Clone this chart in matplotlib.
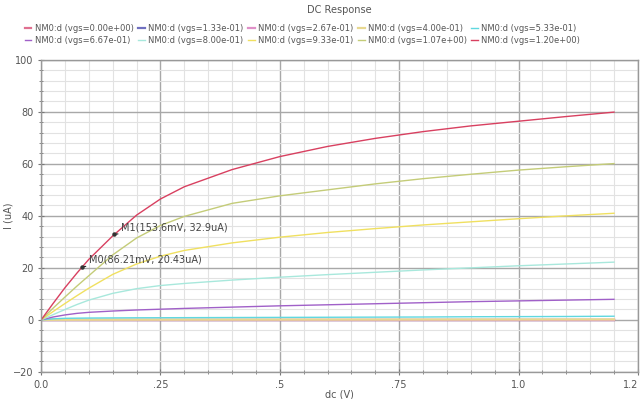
import numpy as np
import matplotlib
matplotlib.use("Agg")
import matplotlib.pyplot as plt
from matplotlib.ticker import MultipleLocator, FixedLocator, FixedFormatter

# drain voltage sweep (V)
vds = [0.0, 0.025, 0.05, 0.075, 0.1, 0.15, 0.2, 0.25, 0.3, 0.4,
       0.5, 0.6, 0.7, 0.8, 0.9, 1.0, 1.1, 1.2]

vgs_labels = ["0.00e+00", "1.33e-01", "2.67e-01", "4.00e-01", "5.33e-01",
              "6.67e-01", "8.00e-01", "9.33e-01", "1.07e+00", "1.20e+00"]

# drain current I (uA), one list per vgs step
id_vgs_000 = [0.0] * 18
id_vgs_133 = [0.0] * 18
id_vgs_267 = [0.0] * 18
id_vgs_400 = [0.0, 0.02, 0.03, 0.04, 0.05, 0.06, 0.07, 0.08, 0.09, 0.1,
              0.1, 0.11, 0.12, 0.13, 0.14, 0.15, 0.16, 0.17]
id_vgs_533 = [0.0, 0.4, 0.6, 0.65, 0.7, 0.75, 0.8, 0.82, 0.85, 0.9,
              0.95, 1.0, 1.05, 1.1, 1.2, 1.25, 1.3, 1.4]
id_vgs_667 = [0.0, 1.1, 1.9, 2.5, 2.9, 3.4, 3.8, 4.1, 4.4, 4.9,
              5.4, 5.8, 6.2, 6.6, 7.0, 7.3, 7.6, 7.9]
id_vgs_800 = [0.0, 2.0, 4.0, 5.9, 7.6, 10.2, 12.0, 13.2, 14.0, 15.3,
              16.4, 17.4, 18.3, 19.2, 20.0, 20.8, 21.5, 22.2]
id_vgs_933 = [0.0, 3.2, 6.3, 9.3, 12.2, 17.5, 21.5, 24.5, 26.7, 29.6,
              31.8, 33.6, 35.1, 36.5, 37.7, 38.9, 40.0, 41.0]
id_vgs_1070 = [0.0, 4.5, 8.8, 13.0, 17.0, 25.0, 31.5, 36.3, 39.8, 44.8,
               47.7, 50.0, 52.3, 54.3, 56.0, 57.6, 58.9, 60.1]
id_vgs_1200 = [0.0, 6.3, 12.4, 18.0, 23.3, 32.3, 40.3, 46.5, 51.2, 57.8,
               62.8, 66.7, 69.8, 72.4, 74.6, 76.4, 78.2, 79.9]

currents = [id_vgs_000, id_vgs_133, id_vgs_267, id_vgs_400, id_vgs_533,
            id_vgs_667, id_vgs_800, id_vgs_933, id_vgs_1070, id_vgs_1200]

colors = ["#e07090", "#7070c0", "#e090c8", "#e8d890", "#60d8e0",
          "#a060c8", "#a8e8dc", "#f0e060", "#c4cc78", "#d84060"]

# markers on the vgs = 1.2 curve
marker_names = ["M0", "M1"]
marker_vds = [0.08621, 0.1536]
marker_id = [20.43, 32.9]
marker_text = ["86.21mV, 20.43uA", "153.6mV, 32.9uA"]

x_ticks = [0.0, 0.25, 0.5, 0.75, 1.0, 1.25]
x_tick_labels = ["0.0", ".25", ".5", ".75", "1.0", "1.2"]


def plot_dc_response():
    fig = plt.figure(figsize=(6.43, 3.99), dpi=100)
    ax = fig.add_axes([0.064, 0.068, 0.928, 0.782])

    lines = []
    for label, ids, col in zip(vgs_labels, currents, colors):
        lw = 1.6 if max(ids) < 0.5 else 1.0
        ln, = ax.plot(vds, ids, color=col, linewidth=lw,
                      label=f"NM0:d (vgs={label})")
        lines.append(ln)

    # markers
    for name, mx, my, txt in zip(marker_names, marker_vds, marker_id, marker_text):
        ax.plot(mx, my, "o", color="#333333", markersize=2.2, zorder=5)
        ax.annotate(f"{name}({txt})", xy=(mx, my), xytext=(4.5, 5),
                    textcoords="offset points", fontsize=7, color="#444444",
                    va="center", ha="left",
                    arrowprops=dict(arrowstyle="-", color="#222222", lw=0.8,
                                    shrinkA=0, shrinkB=0))

    ax.set_xlim(0, 1.25)
    ax.set_ylim(-20, 100)

    ax.xaxis.set_major_locator(FixedLocator(x_ticks))
    ax.xaxis.set_major_formatter(FixedFormatter(x_tick_labels))
    ax.xaxis.set_minor_locator(MultipleLocator(0.05))
    ax.yaxis.set_major_locator(MultipleLocator(20))
    ax.yaxis.set_minor_locator(MultipleLocator(4))

    ax.grid(which="major", color="#a8a8a8", linewidth=1.0)
    ax.grid(which="minor", color="#e2e2e2", linewidth=0.8)
    ax.set_axisbelow(True)

    ax.tick_params(which="both", labelsize=7, labelcolor="#555555",
                   color="#777777", direction="inout")
    ax.tick_params(which="major", length=4)
    ax.tick_params(which="minor", length=2.5)
    for sp in ax.spines.values():
        sp.set_color("#999999")
        sp.set_linewidth(1.0)
    # last x label sits against the right edge
    ax.get_xticklabels()[-1].set_horizontalalignment("right")

    ax.set_ylabel("I (uA)", fontsize=7, color="#555555", labelpad=0)
    ax.set_xlabel("dc (V)", fontsize=7, color="#555555", labelpad=0)

    fig.text(0.528, 0.975, "DC Response", fontsize=7, color="#555555",
             ha="center", va="center")

    # legend is filled column by column, so reorder to read row by row
    order = [0, 5, 1, 6, 2, 7, 3, 8, 4, 9]
    fig.legend([lines[i] for i in order],
               [lines[i].get_label() for i in order],
               loc="upper left", bbox_to_anchor=(0.032, 0.95), ncol=5,
               fontsize=6.0, frameon=False, handlelength=0.8,
               handletextpad=0.4, columnspacing=0.55, labelspacing=0.35,
               borderpad=0.0, labelcolor="#555555")

    fig.savefig("out.png", dpi=100)


def main():
    plot_dc_response()


if __name__ == "__main__":
    main()
